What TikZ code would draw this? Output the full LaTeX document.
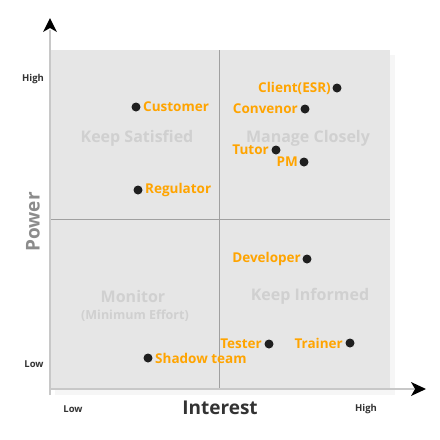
\documentclass[tikz,border=0pt]{standalone}
\usepackage{fontspec}
\setmainfont{Open Sans}
\definecolor{bg}{HTML}{E6E6E6}
\definecolor{shadecol}{HTML}{F6F6F6}
\definecolor{orng}{HTML}{FFA400}
\definecolor{qlab}{HTML}{D0D0D0}
\definecolor{divl}{HTML}{A0A0A0}
\definecolor{axl}{HTML}{C8C8C8}
\tikzset{
  dot/.style={circle,fill=black!88,inner sep=0pt,minimum size=9pt},
  stk/.style={text=orng,font=\fontsize{13.5}{15}\selectfont\bfseries,inner sep=0pt},
  quad/.style={text=qlab,font=\fontsize{16}{18}\selectfont\bfseries,inner sep=0pt},
  tick/.style={text=black!80,font=\fontsize{9.5}{11}\selectfont\bfseries,inner sep=0pt},
}
\begin{document}
\begin{tikzpicture}[x=1pt,y=-1pt]
\useasboundingbox (0,0) rectangle (440,440);
% plot area
\fill[shadecol] (55,55) rectangle (395,395);
\fill[bg] (50,50) rectangle (390,389);
\draw[divl,line width=0.8pt] (219,50) -- (219,389);
\draw[divl,line width=0.8pt] (50,219) -- (390,219);
% axes
\coordinate (ytip) at (50,18);
\coordinate (xtip) at (426,389);
\draw[axl,line width=1.6pt] (50,395) -- (50,30);
\draw[axl,line width=1.6pt] (50,389) -- (414,389);
\fill[black] (ytip) -- (57,32) -- (50,28) -- (43,32) -- cycle;
\fill[black] (xtip) -- (411,382) -- (415,389) -- (411,396) -- cycle;
% tick labels
\node[tick] (hy) at (33,79) {High};
\node[tick] (ly) at (34,364) {Low};
\node[tick] (lx) at (73,409) {Low};
\node[tick] (hx) at (366,409) {High};
\node[text=black!80,font=\fontsize{19}{21}\selectfont\bfseries,inner sep=0pt] (ix) at (220,408) {Interest};
\node[text=black!45,font=\fontsize{19}{21}\selectfont\bfseries,inner sep=0pt,rotate=90] (pw) at (33,222) {Power};
% quadrant labels
\node[quad] (q1) at (137,138) {Keep Satisfied};
\node[quad] (q2) at (308,138) {Manage Closely};
\node[quad] (q3) at (133,296) {Monitor};
\node[quad,font=\fontsize{12.5}{14}\selectfont\bfseries] (q3b) at (135,316) {(Minimum Effort)};
\node[quad] (q4) at (310,296) {Keep Informed};
% stakeholders
\node[dot] (d1) at (136,107) {};
\node[stk,anchor=west] (t1) at (143,107) {Customer};
\node[dot] (d2) at (138,190) {};
\node[stk,anchor=west] (t2) at (145,190) {Regulator};
\node[dot] (d3) at (337,88) {};
\node[stk,anchor=east] (t3) at (331,88) {Client(ESR)};
\node[dot] (d4) at (305,109) {};
\node[stk,anchor=east] (t4) at (298,109) {Convenor};
\node[dot] (d5) at (276,150) {};
\node[stk,anchor=east] (t5) at (269,150) {Tutor};
\node[dot] (d6) at (304,162) {};
\node[stk,anchor=east] (t6) at (298,162) {PM};
\node[dot] (d7) at (307,259) {};
\node[stk,anchor=east] (t7) at (301,259) {Developer};
\node[dot] (d8) at (269,344) {};
\node[stk,anchor=east] (t8) at (262,344) {Tester};
\node[dot] (d9) at (350,343) {};
\node[stk,anchor=east] (t9) at (343,343) {Trainer};
\node[dot] (d10) at (148,358) {};
\node[stk,anchor=west] (t10) at (155,358) {Shadow team};
\end{tikzpicture}
\end{document}
